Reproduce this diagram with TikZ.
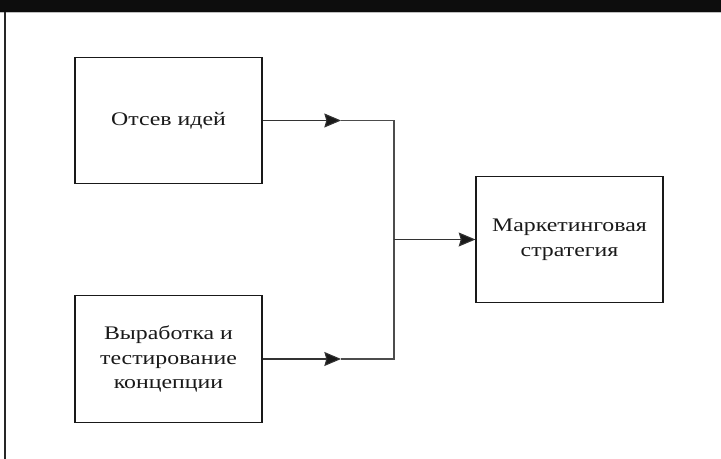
\documentclass[tikz,border=0pt]{standalone}
\usepackage{fontspec}
\setmainfont[FakeStretch=1.24]{Liberation Serif}
\usetikzlibrary{arrows.meta}
\tikzset{
  stagebox/.style={draw=black!90, line width=0.9pt, fill=white,
    minimum width=140.25pt, minimum height=95pt, align=center,
    inner sep=2pt, font=\fontsize{14.4}{18.4}\selectfont, text=black!90},
  conn/.style={draw=black!70, line width=0.8pt},
  tip/.style={-{Stealth[length=12.5pt,width=10.5pt,inset=1.5pt,fill=black!90]},
    draw=black!80, line width=0.8pt},
}
\begin{document}
\begin{tikzpicture}[x=0.75pt, y=-0.75pt]
  \useasboundingbox (0,0) rectangle (721,459);
  % heading strip and left frame rule
  \fill[black!95] (0,0) rectangle (721,12);
  \draw[black!25, line width=0.75pt] (0,12.5) -- (721,12.5);
  \draw[black!85, line width=1.3pt] (5,12) -- (5,459);

  % stages
  \node[stagebox] (b1) at (168.5,120.5) {Отсев идей};
  \node[stagebox] (b2) at (168.5,359) {Выработка и\\тестирование\\концепции};
  \node[stagebox, minimum height=94pt] (b3) at (569.5,239.5) {Маркетинговая\\стратегия};

  % junction points
  \coordinate (t1) at (341,120.5);
  \coordinate (t2) at (341,359);
  \coordinate (j1) at (394,120.5);
  \coordinate (j2) at (394,359);
  \coordinate (jm) at (394,239.5);

  % connectors
  \draw[tip] (b1.east) -- (t1);
  \draw[tip] (b2.east) -- (t2);
  \draw[conn] (t1) -- (j1) -- (j2) -- (t2);
  \draw[tip] (jm) -- (b3.west);
\end{tikzpicture}
\end{document}
